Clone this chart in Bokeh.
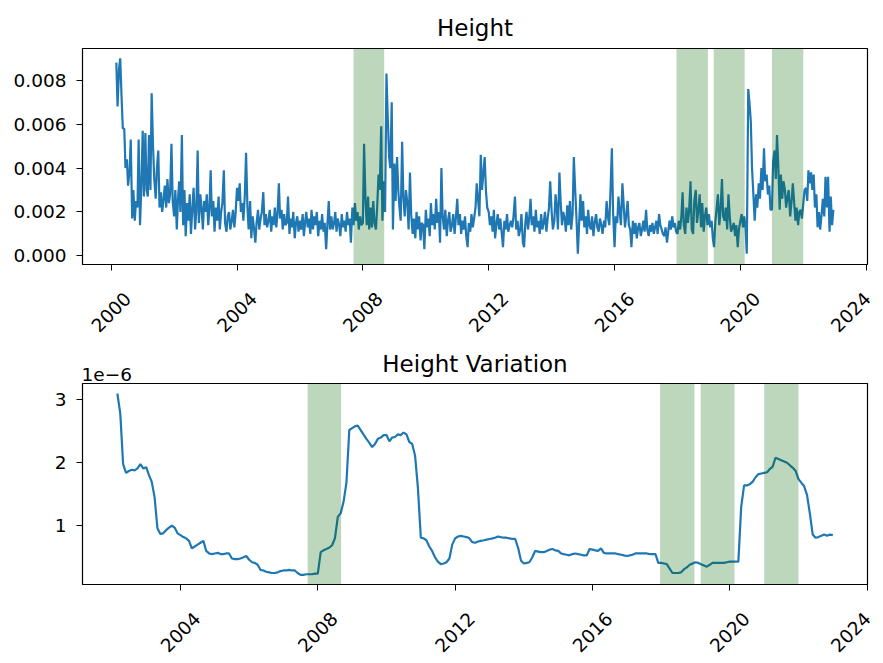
import numpy as np
import pandas as pd
from math import pi
from bokeh.plotting import figure
from bokeh.models import (Range1d, FixedTicker, PrintfTickFormatter, LinearAxis, BoxAnnotation)
from bokeh.layouts import column
from bokeh.embed import file_html
from bokeh.resources import INLINE

# ---------------- data: "Height" (semi-monthly samples, units of 1e-4) ----------------
h2000 = [88, 68, 85, 90, 72, 58, 58, 40, 44, 32, 38, 53, 17, 30, 16, 25, 22, 53, 14, 30]  # from March
h2001 = [57, 27, 56, 30, 27, 55, 30, 74, 50, 35, 26, 40, 48, 22, 29, 20, 26, 32, 22, 35, 24, 28, 51, 25]
h2002 = [18, 30, 12, 26, 34, 20, 55, 14, 30, 9, 24, 16, 28, 10, 22, 31, 12, 20, 48, 15, 28, 22, 12, 25]
h2003 = [20, 28, 14, 22, 39, 18, 25, 11, 22, 16, 27, 12, 20, 24, 39, 15, 11, 18, 20, 12, 16, 21, 13, 19]
h2004 = [31, 25, 33, 20, 24, 16, 28, 47, 22, 12, 25, 8, 18, 13, 6, 15, 21, 12, 17, 20, 29, 14, 19, 13]
h2005 = [16, 21, 11, 18, 14, 22, 13, 19, 33, 17, 21, 12, 19, 14, 15, 27, 10, 17, 13, 20, 8, 15, 18, 11]
h2006 = [16, 12, 19, 9, 15, 20, 13, 17, 10, 21, 12, 18, 14, 20, 9, 16, 12, 19, 11, 15, 3, 14, 25, 12]
h2007 = [18, 12, 15, 20, 11, 17, 14, 9, 19, 13, 16, 11, 20, 14, 17, 6, 22, 14, 24, 16, 20, 12, 18, 14]
h2008 = [15, 51, 25, 14, 27, 12, 22, 13, 25, 15, 12, 22, 37, 30, 59, 16, 34, 20, 83, 64, 45, 40, 70, 12]
h2009 = [42, 25, 45, 30, 22, 16, 52, 27, 18, 30, 24, 12, 38, 19, 10, 17, 8, 20, 12, 18, 7, 15, 14, 3]
h2010 = [21, 13, 17, 9, 24, 14, 19, 12, 26, 15, 20, 6, 40, 18, 12, 21, 9, 16, 20, 11, 14, 19, 10, 17]
h2011 = [26, 14, 19, 10, 16, 12, 18, 9, 4, 15, 11, 19, 13, 17, 22, 33, 25, 18, 46, 30, 38, 45, 29, 22]
h2012 = [20, 14, 18, 11, 21, 8, 15, 19, 12, 17, 10, 4, 16, 12, 19, 11, 14, 16, 13, 18, 27, 12, 16, 9]
h2013 = [12, 19, 6, 4, 15, 20, 12, 17, 26, 14, 18, 11, 21, 13, 16, 10, 19, 12, 15, 20, 11, 17, 22, 34]
h2014 = [20, 12, 16, 28, 22, 12, 38, 25, 14, 20, 17, 11, 23, 14, 25, 12, 19, 45, 30, 18, 1, 14, 28, 16]
h2015 = [25, 13, 18, 10, 21, 14, 12, 18, 9, 15, 19, 13, 11, 17, 14, 10, 16, 13, 25, 18, 14, 30, 49, 20]
h2016 = [4, 18, 15, 27, 20, 14, 33, 24, 13, 18, 25, 14, 12, 4, 16, 10, 15, 8, 13, 15, 9, 12, 16, 11]
h2017 = [21, 12, 9, 14, 11, 15, 10, 13, 16, 10, 19, 14, 12, 10, 9, 13, 6, 11, 16, 12, 18, 13, 15, 11]
h2018 = [10, 16, 12, 18, 29, 14, 10, 22, 15, 20, 34, 12, 10, 25, 30, 15, 21, 28, 13, 24, 11, 18, 22, 14]
h2019 = [19, 13, 16, 8, 4, 15, 22, 28, 14, 20, 35, 18, 16, 22, 12, 28, 17, 11, 13, 15, 9, 14, 4, 12]
h2020 = [16, 19, 13, 18, 13, 1, 76, 70, 61, 40, 27, 16, 28, 22, 33, 26, 40, 30, 49, 34, 37, 28, 32, 21]
h2021 = [21, 43, 48, 35, 55, 42, 21, 37, 26, 34, 30, 22, 27, 30, 18, 24, 33, 25, 16, 22, 14, 20, 21, 17]
h2022 = [24, 30, 31, 25, 39, 33, 38, 30, 37, 22, 28, 13, 20, 12, 19, 26, 18, 36, 22, 36, 11, 27, 14, 21]

# ---------------- data: "Height Variation" (monthly samples, units of 1e-6) ----------------
v2002 = [3.10, 2.78, 1.98, 1.84, 1.87, 1.89, 1.88, 1.91, 1.98, 1.91]  # from March
v2003 = [1.93, 1.80, 1.70, 1.45, 0.96, 0.87, 0.88, 0.93, 0.97, 1.00, 0.97, 0.88]
v2004 = [0.85, 0.82, 0.80, 0.76, 0.64, 0.67, 0.70, 0.73, 0.76, 0.60, 0.56, 0.55]
v2005 = [0.56, 0.57, 0.55, 0.55, 0.56, 0.56, 0.48, 0.47, 0.47, 0.48, 0.50, 0.52]
v2006 = [0.46, 0.42, 0.41, 0.38, 0.30, 0.29, 0.27, 0.26, 0.25, 0.25, 0.26, 0.28]
v2007 = [0.29, 0.29, 0.30, 0.29, 0.29, 0.25, 0.22, 0.22, 0.23, 0.23, 0.23, 0.24]
v2008 = [0.24, 0.58, 0.61, 0.63, 0.65, 0.69, 0.80, 1.14, 1.20, 1.38, 1.69, 2.52]
v2009 = [2.55, 2.58, 2.59, 2.52, 2.45, 2.38, 2.32, 2.25, 2.30, 2.38, 2.40, 2.44]
v2010 = [2.44, 2.34, 2.40, 2.41, 2.45, 2.44, 2.48, 2.45, 2.33, 2.30, 2.11, 1.60]
v2011 = [0.81, 0.80, 0.77, 0.67, 0.60, 0.50, 0.43, 0.39, 0.40, 0.42, 0.48, 0.70]
v2012 = [0.80, 0.83, 0.84, 0.83, 0.82, 0.80, 0.74, 0.73, 0.75, 0.76, 0.77, 0.78]
v2013 = [0.79, 0.80, 0.81, 0.83, 0.82, 0.81, 0.81, 0.80, 0.79, 0.79, 0.65, 0.45]
v2014 = [0.40, 0.41, 0.42, 0.50, 0.60, 0.59, 0.58, 0.58, 0.60, 0.62, 0.63, 0.61]
v2015 = [0.60, 0.56, 0.55, 0.54, 0.53, 0.55, 0.56, 0.55, 0.54, 0.53, 0.53, 0.63]
v2016 = [0.62, 0.61, 0.60, 0.64, 0.57, 0.56, 0.56, 0.56, 0.56, 0.55, 0.54, 0.53]
v2017 = [0.52, 0.53, 0.54, 0.56, 0.56, 0.56, 0.56, 0.56, 0.55, 0.55, 0.55, 0.41]
v2018 = [0.41, 0.40, 0.39, 0.32, 0.25, 0.25, 0.25, 0.26, 0.31, 0.34, 0.38, 0.40]
v2019 = [0.42, 0.41, 0.39, 0.37, 0.35, 0.38, 0.41, 0.41, 0.41, 0.41, 0.41, 0.42]
v2020 = [0.43, 0.43, 0.43, 0.43, 1.30, 1.64, 1.64, 1.66, 1.70, 1.77, 1.82, 1.83]
v2021 = [1.84, 1.85, 1.90, 1.94, 2.08, 2.06, 2.04, 2.02, 2.00, 1.96, 1.92, 1.87]
v2022 = [1.74, 1.68, 1.63, 1.49, 1.20, 0.86, 0.81, 0.82, 0.84, 0.86, 0.84, 0.86]
v2023 = [0.85]

# shaded periods
span_start = ["2007-09-15", "2017-12-20", "2019-02-25", "2021-01-01"]
span_end = ["2008-09-05", "2018-12-20", "2020-02-20", "2021-12-31"]

# tick values / texts
top_xticks = [2000, 2004, 2008, 2012, 2016, 2020, 2024]
bot_xticks = [2004, 2008, 2012, 2016, 2020, 2024]
top_yticks = [0.000, 0.002, 0.004, 0.006, 0.008]
bot_yticks = [1, 2, 3]
top_title = "Height"
bot_title = "Height Variation"
bot_scale_text = "1e\u22126"

# ---------------- assemble series ----------------
h_years = [(2000, 3, h2000), (2001, 1, h2001), (2002, 1, h2002), (2003, 1, h2003), (2004, 1, h2004),
           (2005, 1, h2005), (2006, 1, h2006), (2007, 1, h2007), (2008, 1, h2008), (2009, 1, h2009),
           (2010, 1, h2010), (2011, 1, h2011), (2012, 1, h2012), (2013, 1, h2013), (2014, 1, h2014),
           (2015, 1, h2015), (2016, 1, h2016), (2017, 1, h2017), (2018, 1, h2018), (2019, 1, h2019),
           (2020, 1, h2020), (2021, 1, h2021), (2022, 1, h2022)]
v_years = [(2002, 3, v2002), (2003, 1, v2003), (2004, 1, v2004), (2005, 1, v2005), (2006, 1, v2006),
           (2007, 1, v2007), (2008, 1, v2008), (2009, 1, v2009), (2010, 1, v2010), (2011, 1, v2011),
           (2012, 1, v2012), (2013, 1, v2013), (2014, 1, v2014), (2015, 1, v2015), (2016, 1, v2016),
           (2017, 1, v2017), (2018, 1, v2018), (2019, 1, v2019), (2020, 1, v2020), (2021, 1, v2021),
           (2022, 1, v2022), (2023, 1, v2023)]

h_dates, h_vals = [], []
for yr, m, vals in h_years:
    d = pd.date_range(f"{yr}-{m:02d}-01", periods=len(vals), freq="SMS")
    h_dates.extend(d)
    h_vals.extend([v * 1e-4 for v in vals])

v_dates, v_vals = [], []
for yr, m, vals in v_years:
    d = pd.date_range(f"{yr}-{m:02d}-01", periods=len(vals), freq="MS")
    v_dates.extend(d)
    v_vals.extend(vals)


def ms(ts):
    return pd.Timestamp(ts).value / 1e6


def dec_ms(y):
    yi = int(np.floor(y))
    a = pd.Timestamp(f"{yi}-01-01")
    b = pd.Timestamp(f"{yi + 1}-01-01")
    return (a + (b - a) * (y - yi)).value / 1e6


FONT = "DejaVu Sans"
TICK_PX = 18.5
TICK_FS = f"{TICK_PX}px"
TITLE_FS = "23px"
BLUE = "#1f77b4"
FRAME_W = 785


def style_text_axis(ax, font_size):
    ax.axis_line_color = None
    ax.major_tick_out = 0
    ax.major_tick_in = 0
    ax.minor_tick_out = 0
    ax.minor_tick_in = 0
    ax.major_label_text_font = FONT
    ax.major_label_text_font_size = font_size
    ax.major_label_text_color = "black"


def add_text_axis(p, name, frac, text, font_size, standoff):
    """A tick-less axis above the frame that carries one text (title / scale note)."""
    p.extra_x_ranges = {**p.extra_x_ranges, name: Range1d(0, 1)}
    ax = LinearAxis(x_range_name=name, ticker=FixedTicker(ticks=[frac]),
                    major_label_overrides={frac: text})
    style_text_axis(ax, font_size)
    ax.major_label_standoff = standoff
    p.add_layout(ax, "above")


def make_fig(xr, yr_, height, btop, bbot, xticks, yticks, yfmt):
    p = figure(width=875, height=height, x_axis_type="datetime", x_axis_location=None,
               x_range=Range1d(dec_ms(xr[0]), dec_ms(xr[1])),
               y_range=Range1d(yr_[0], yr_[1]), title=None,
               output_backend="svg", toolbar_location=None,
               min_border_left=82, min_border_right=8,
               min_border_top=btop, min_border_bottom=bbot)
    p.grid.visible = False
    p.outline_line_color = "black"
    p.outline_line_width = 1.2
    p.background_fill_color = "white"
    p.border_fill_color = "white"

    # x axis: matplotlib-style rotated labels centred under each tick.
    # Bokeh right-aligns rotated labels at their anchor, so the labels use a
    # companion range shifted by half a rotated label width; the true tick
    # marks are the axis' minor ticks.
    px_per_year = FRAME_W / (xr[1] - xr[0])
    label_w = 4 * 0.636 * TICK_PX
    shift = (label_w / 2) * np.cos(pi / 4) / px_per_year
    L0, L1 = xr[0] - shift, xr[1] - shift
    lab_ticks = [t if t <= L1 else L1 - 0.001 for t in xticks]
    p.extra_x_ranges = {"lab": Range1d(L0, L1)}
    xax = LinearAxis(x_range_name="lab",
                     ticker=FixedTicker(ticks=lab_ticks, minor_ticks=[t - shift for t in xticks]),
                     formatter=PrintfTickFormatter(format="%.0f"))
    style_text_axis(xax, TICK_FS)
    xax.major_label_orientation = pi / 4
    xax.major_label_standoff = 25
    xax.minor_tick_out = 6
    xax.minor_tick_line_color = "black"
    xax.minor_tick_line_width = 1
    p.add_layout(xax, "below")

    yax = p.yaxis[0]
    yax.ticker = FixedTicker(ticks=yticks)
    yax.formatter = PrintfTickFormatter(format=yfmt)
    yax.axis_line_color = None
    yax.major_tick_out = 6
    yax.major_tick_in = 0
    yax.minor_tick_out = 0
    yax.minor_tick_in = 0
    yax.major_tick_line_color = "black"
    yax.major_tick_line_width = 1
    yax.major_label_standoff = 10
    yax.major_label_text_font = FONT
    yax.major_label_text_font_size = TICK_FS
    yax.major_label_text_color = "black"
    return p


# ---------------- top: Height ----------------
p1 = make_fig((1999.088, 2024.04), (-0.000393, 0.009444), 340, 48, 74,
              top_xticks, top_yticks, "%.3f")
p1.line(h_dates, h_vals, line_color=BLUE, line_width=2.2)
add_text_axis(p1, "ttl", 0.5, top_title, TITLE_FS, 8)

# ---------------- bottom: Height Variation ----------------
p2 = make_fig((2001.145, 2024.01), (0.067, 3.259), 320, 43, 59,
              bot_xticks, bot_yticks, "%d")
p2.line(v_dates, v_vals, line_color=BLUE, line_width=2.2)
scale_w = 2.725 * TICK_PX
add_text_axis(p2, "scl", (scale_w / 2 - 1) / FRAME_W, bot_scale_text, TICK_FS, 3)
add_text_axis(p2, "ttl", 0.5, bot_title, TITLE_FS, -12)

for p in (p1, p2):
    for s, e in zip(span_start, span_end):
        p.add_layout(BoxAnnotation(left=ms(s), right=ms(e), fill_color="darkgreen",
                                   fill_alpha=0.26, line_color=None))

layout = column(p1, p2, spacing=0)
open("out.html", "w").write(file_html(layout, INLINE))
